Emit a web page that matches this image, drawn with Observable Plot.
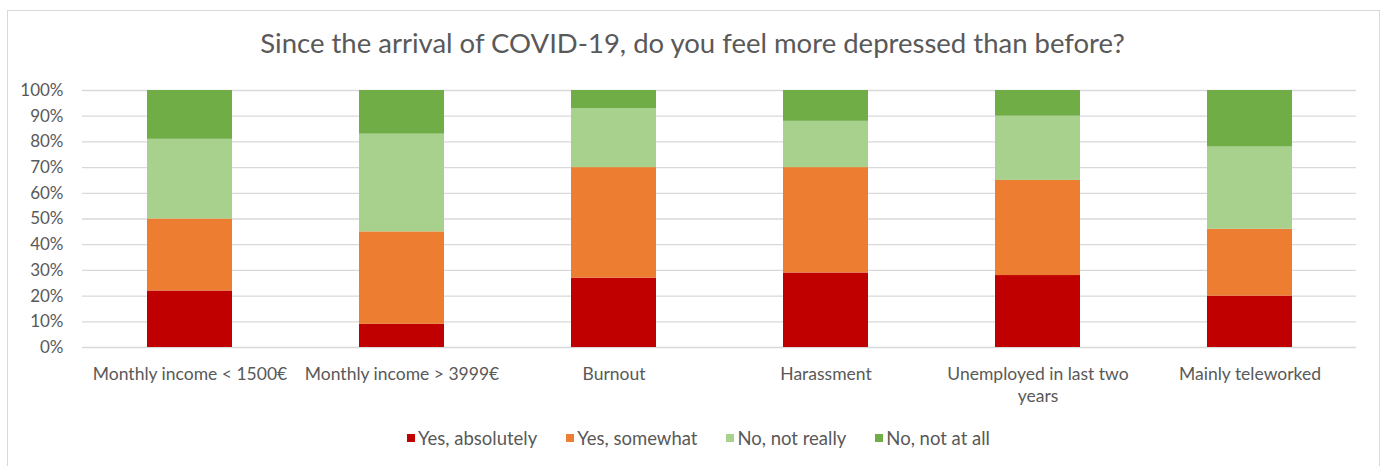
<!DOCTYPE html>
<html>
<head>
<meta charset="utf-8">
<script src="https://cdn.jsdelivr.net/npm/d3@7"></script>
<script src="https://cdn.jsdelivr.net/npm/@observablehq/plot@0.6"></script>
<style>
  html, body { margin: 0; padding: 0; background: #fff; }
  body { width: 1385px; height: 466px; position: relative; overflow: hidden; font-family: Lato, "Open Sans", sans-serif; color: #595959; }
  #frame { position: absolute; left: 7px; top: 10px; width: 1373px; height: 480px; border: 1.5px solid #d9d9d9; border-bottom: none; box-sizing: border-box; }
  #title { position: absolute; left: 0; top: 26px; width: 1385px; text-align: center; font-size: 27.5px; line-height: 34px; white-space: nowrap; }
  #chart { position: absolute; left: 0; top: 70px; }
  #legend { position: absolute; left: 6px; top: 426px; width: 1385px; display: flex; justify-content: center; gap: 29px; font-size: 18.5px; line-height: 24px; white-space: nowrap; }
  .item { display: flex; align-items: center; gap: 3px; }
  .swatch { width: 8px; height: 8px; display: inline-block; }
</style>
</head>
<body>
<div id="frame"></div>
<div id="title">Since the arrival of COVID-19, do you feel more depressed than before?</div>
<div id="chart"></div>
<div id="legend"></div>
<script>
// Groups surveyed
const categories = [
  "Monthly income < 1500€",
  "Monthly income > 3999€",
  "Burnout",
  "Harassment",
  "Unemployed in last two years",
  "Mainly teleworked"
];
// Tick labels as printed under the bars (one wraps onto two lines)
const tickLabels = [
  "Monthly income < 1500€",
  "Monthly income > 3999€",
  "Burnout",
  "Harassment",
  "Unemployed in last two\nyears",
  "Mainly teleworked"
];
// Answers, bottom to top
const answers = ["Yes, absolutely", "Yes, somewhat", "No, not really", "No, not at all"];
const colors = ["#c00000", "#ed7d31", "#a9d18e", "#70ad47"];

// Share of respondents (%) per group, one array per answer
const yesAbsolutely = [22, 9, 27, 29, 28, 20];
const yesSomewhat   = [28, 36, 43, 41, 37, 26];
const noNotReally   = [31, 38, 23, 18, 25, 32];
const noNotAtAll    = [19, 17, 7, 12, 10, 22];

const yTicks = [0, 10, 20, 30, 40, 50, 60, 70, 80, 90, 100];

const series = [yesAbsolutely, yesSomewhat, noNotReally, noNotAtAll];
const rows = [];
categories.forEach((c, i) => {
  answers.forEach((a, j) => rows.push({category: c, answer: a, value: series[j][i]}));
});

const chart = Plot.plot({
  width: 1385,
  height: 340,
  marginTop: 20,
  marginBottom: 63,
  marginLeft: 82,
  marginRight: 29,
  style: {fontFamily: "Lato, 'Open Sans', sans-serif", fontSize: "17.5px", color: "#595959", background: "transparent"},
  x: {domain: categories, paddingInner: 0.6, paddingOuter: 0.3, label: null},
  y: {domain: [0, 100], label: null},
  color: {domain: answers, range: colors},
  marks: [
    Plot.gridY(yTicks, {stroke: "#d9d9d9", strokeOpacity: 1, strokeWidth: 1.3}),
    Plot.barY(rows, Plot.stackY({x: "category", y: "value", fill: "answer"})),
    Plot.axisY(yTicks, {tickSize: 0, tickPadding: 19, tickFormat: d => d + "%", fontSize: 17}),
    Plot.axisX({tickSize: 0, tickPadding: 16, fontSize: 17.5, lineHeight: 1.3,
      tickFormat: d => tickLabels[categories.indexOf(d)]})
  ]
});
document.getElementById("chart").appendChild(chart);

const legend = document.getElementById("legend");
answers.forEach((a, j) => {
  const item = document.createElement("div");
  item.className = "item";
  const sw = document.createElement("span");
  sw.className = "swatch";
  sw.style.background = colors[j];
  const label = document.createElement("span");
  label.textContent = a;
  item.appendChild(sw);
  item.appendChild(label);
  legend.appendChild(item);
});
</script>
</body>
</html>
